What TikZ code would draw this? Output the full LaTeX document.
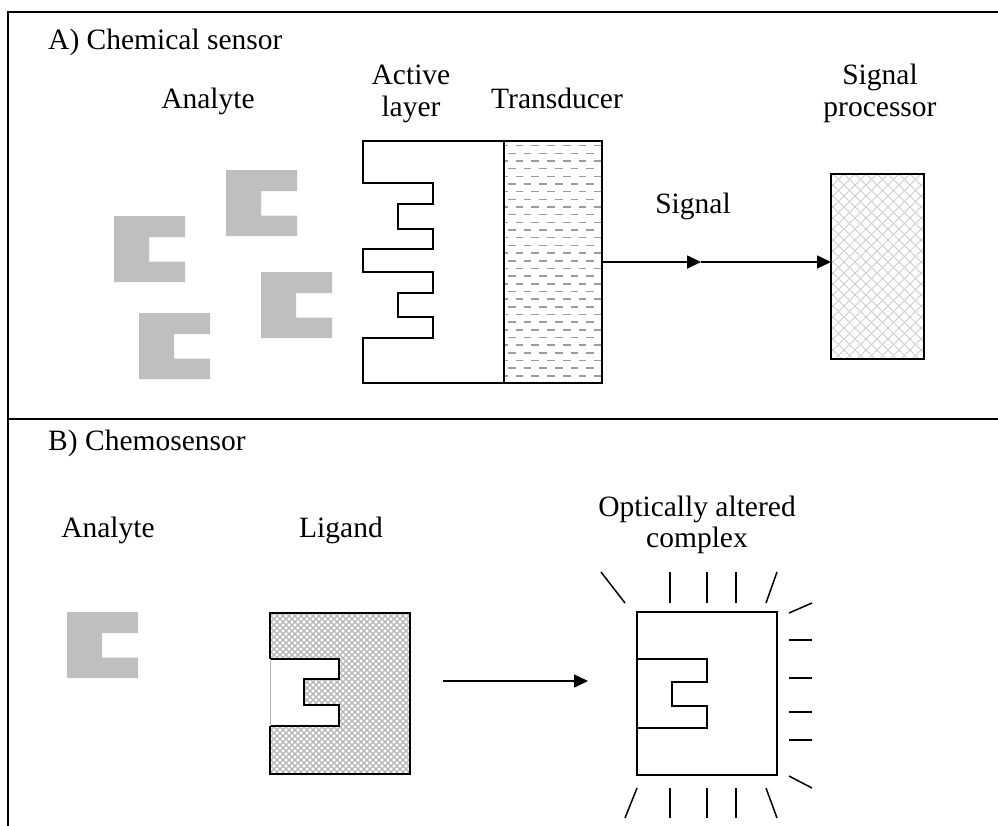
\documentclass[tikz,border=0pt]{standalone}
\usepackage{fontspec}
\setmainfont{Liberation Serif}
\usetikzlibrary{arrows.meta}
\definecolor{anagray}{HTML}{BFBFBF}
\definecolor{dashgray}{HTML}{9C9C9C}
\definecolor{lighthatch}{HTML}{CDCDCD}
\definecolor{darkhatch}{HTML}{B4B4B4}
\begin{document}
\begin{tikzpicture}[x=1pt,y=-1pt,
  lbl/.style={anchor=base, inner sep=0pt, font=\fontsize{29.5}{34}\selectfont},
  frameline/.style={line width=2pt},
  box/.style={draw, line width=2pt, inner sep=0pt, outer sep=0pt},
  arr/.style={line width=1.7pt, -{Triangle[length=14pt,width=13pt]}},
  ray/.style={line width=1.5pt},
  analyte/.pic={\fill[anagray] (0,0) -- (71,0) -- (71,21) -- (35,21) -- (35,45.5) -- (71,45.5) -- (71,66) -- (0,66) -- cycle;}
]
\useasboundingbox (0,0) rectangle (998,825);
\fill[white] (0,0) rectangle (998,825);

% frame
\draw[frameline] (1010,12) -- (8,12) -- (8,840);
\draw[frameline] (8,419) -- (1010,419);

% ---------- A) Chemical sensor ----------
\node[lbl, anchor=base west] (tA) at (48,49) {A) Chemical sensor};
\node[lbl] (anA) at (208,108) {Analyte};
\node[lbl] (act1) at (411,84) {Active};
\node[lbl] (act2) at (411,116) {layer};
\node[lbl] (tra) at (557,108) {Transducer};
\node[lbl] (sp1) at (880,84) {Signal};
\node[lbl] (sp2) at (880,116) {processor};

% analytes
\pic at (114,216) {analyte};
\pic at (226,170) {analyte};
\pic at (261,272) {analyte};
\pic at (139,313) {analyte};

% active layer
\draw[line width=1.7pt, line join=miter] (504,141) -- (363,141) -- (363,183) -- (433,183) -- (433,204) -- (398,204) -- (398,229) -- (433,229) -- (433,249) -- (363,249) -- (363,272) -- (433,272) -- (433,293) -- (398,293) -- (398,317) -- (433,317) -- (433,338) -- (363,338) -- (363,383) -- (504,383);

% transducer pattern
\begin{scope}
  \clip (504,141) rectangle (602,383);
  \foreach \r in {0,...,31} {
    \pgfmathsetmacro\yy{145.7+\r*7.67}
    \pgfmathsetmacro\ph{mod(\r,2)*7.85+4}
    \draw[dashgray, line width=1.5pt, dash pattern=on 7.7pt off 8pt, dash phase=\ph pt] (504,\yy) -- (602,\yy);
  }
\end{scope}
\node[box, minimum width=98pt, minimum height=242pt] (trans) at (553,262) {};

% signal processor pattern
\begin{scope}
  \clip (831,174) rectangle (924,359);
  \foreach \k in {-16,...,30} {
    \draw[lighthatch, line width=1pt] (800+\k*11,174) -- ++(200,200);
    \draw[lighthatch, line width=1pt] (800+\k*11,174) -- ++(-200,200);
  }
\end{scope}
\node[box, minimum width=93pt, minimum height=185pt] (proc) at (877.5,266.5) {};

% signal arrow
\coordinate (sigmid) at (701,262);
\draw[arr] (trans.east) -- (sigmid);
\draw[arr] (sigmid) -- (sigmid -| proc.west);
\node[lbl] (sig) at (693,213) {Signal};

% ---------- B) Chemosensor ----------
\node[lbl, anchor=base west] (tB) at (48,450) {B) Chemosensor};
\node[lbl] (anB) at (108,537) {Analyte};
\node[lbl] (lig) at (341,537) {Ligand};
\node[lbl] (oa1) at (697,516) {Optically altered};
\node[lbl] (oa2) at (697,547) {complex};

\pic at (67,612) {analyte};

% ligand
\begin{scope}
  \clip (270,613) rectangle (410,774);
  \foreach \k in {0,...,80} {
    \draw[darkhatch, line width=1.1pt] (100+\k*6,613) -- ++(170,170);
    \draw[darkhatch, line width=1.1pt] (100+\k*6,613) -- ++(-170,170);
  }
\end{scope}
\node[box, minimum width=140pt, minimum height=161pt] (ligand) at (340,693.5) {};
\fill[white] (268,659) -- (339,659) -- (339,679) -- (304,679) -- (304,705) -- (339,705) -- (339,726) -- (268,726) -- cycle;
\draw[line width=1.7pt] (270,659) -- (339,659) -- (339,679) -- (304,679) -- (304,705) -- (339,705) -- (339,726) -- (270,726);
\draw[gray!60, line width=0.8pt] (270,659) -- (270,726);

% reaction arrow
\coordinate (rs) at (443,681);
\coordinate (re) at (588,681);
\draw[arr, line width=1.5pt] (rs) -- (re);

% complex
\node[box, minimum width=140pt, minimum height=163pt] (cplx) at (707,693.5) {};
\draw[line width=1.3pt] (637,659) -- (707,659) -- (707,682) -- (672,682) -- (672,706) -- (707,706) -- (707,728) -- (637,728);

% rays
\draw[ray] (601,572) -- (625,603);
\foreach \x in {670,707,736} {
  \draw[ray] (\x,572) -- (\x,603);
  \draw[ray] (\x,788) -- (\x,818);
}
\draw[ray] (777,572) -- (766,603);
\draw[ray] (789,613) -- (812,603);
\foreach \y in {640,678,712,740} {
  \draw[ray] (789,\y) -- (812,\y);
}
\draw[ray] (789,776) -- (812,788);
\draw[ray] (637,788) -- (625,818);
\draw[ray] (766,788) -- (777,818);
\end{tikzpicture}
\end{document}
